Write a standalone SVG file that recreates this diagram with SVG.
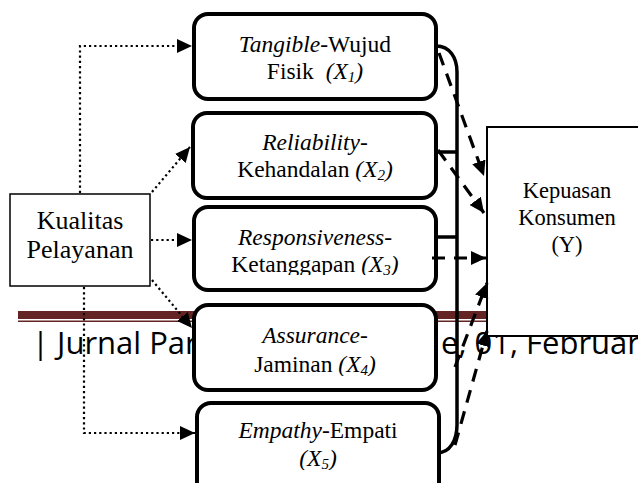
<svg xmlns="http://www.w3.org/2000/svg" width="638" height="483" viewBox="0 0 638 483">
<style>
.rbox{fill:#fff;stroke:#000;stroke-width:4}
.t{font-family:"Liberation Serif","Times New Roman",serif;font-size:23.5px;fill:#000;text-anchor:middle}
.i{font-style:italic}
.dot{fill:none;stroke:#000;stroke-width:2.2;stroke-dasharray:2.2 3}
.dash{fill:none;stroke:#000;stroke-width:3.2;stroke-dasharray:13 9}
.solid{fill:none;stroke:#000;stroke-width:3.5}
.foot{font-family:"Open Sans","DejaVu Sans",sans-serif;font-size:31px;fill:#000}
</style>
<defs>
<marker id="ah" markerUnits="userSpaceOnUse" markerWidth="16" markerHeight="14" refX="15" refY="7" orient="auto"><path d="M0,0 L15,7 L0,14 z" fill="#000"/></marker>
<marker id="ad" markerUnits="userSpaceOnUse" markerWidth="16" markerHeight="14" refX="15" refY="7" orient="auto"><path d="M0,0 L15,7 L0,14 z" fill="#000"/></marker>
<clipPath id="c3"><rect x="190" y="200" width="250" height="75"/></clipPath>
<clipPath id="c4"><rect x="190" y="300" width="250" height="76"/></clipPath>
<clipPath id="c5"><rect x="190" y="398" width="255" height="72"/></clipPath>
</defs>
<rect width="638" height="483" fill="#fff"/>
<g id="footer">
<rect x="18" y="311" width="640" height="8" fill="#632423"/>
<rect x="18" y="320.5" width="640" height="1.5" fill="#632423"/>
<text class="foot" x="32" y="354">| Jurnal Para</text>
<text class="foot" x="441" y="354">e, 01, Februari</text>
</g>
<g id="kualitas">
<rect x="10" y="194" width="140" height="92" fill="#fff" stroke="#000" stroke-width="1.5"/>
<text class="t" style="font-size:26px" x="80" y="229">Kualitas</text>
<text class="t" style="font-size:26px" x="80" y="258">Pelayanan</text>
</g>
<g id="x1">
<rect class="rbox" x="194" y="14" width="242" height="85" rx="14"/>
<text class="t" x="315" y="52"><tspan class="i">Tangible</tspan>-Wujud</text>
<text class="t" x="315" y="79" xml:space="preserve">Fisik  <tspan class="i">(X<tspan font-size="15" dy="3">1</tspan><tspan dy="-3">)</tspan></tspan></text>
</g>
<g id="x2">
<rect class="rbox" x="193" y="113" width="243" height="85" rx="14"/>
<text class="t" x="315" y="150"><tspan class="i">Reliability</tspan>-</text>
<text class="t" x="315" y="177">Kehandalan <tspan class="i">(X<tspan font-size="15" dy="3">2</tspan><tspan dy="-3">)</tspan></tspan></text>
</g>
<g id="x3">
<rect class="rbox" x="194" y="207" width="242" height="83" rx="14"/>
<g clip-path="url(#c3)">
<text class="t" x="315" y="245"><tspan class="i">Responsiveness</tspan>-</text>
<text class="t" x="315" y="272">Ketanggapan <tspan class="i">(X<tspan font-size="15" dy="3">3</tspan><tspan dy="-3">)</tspan></tspan></text>
</g>
</g>
<g id="x4">
<rect class="rbox" x="194" y="305" width="242" height="85" rx="14"/>
<g clip-path="url(#c4)">
<text class="t" x="315" y="343"><tspan class="i">Assurance</tspan>-</text>
<text class="t" x="315" y="372">Jaminan <tspan class="i">(X<tspan font-size="15" dy="3">4</tspan><tspan dy="-3">)</tspan></tspan></text>
</g>
</g>
<g id="x5">
<rect class="rbox" x="197" y="403" width="242" height="95" rx="14"/>
<g clip-path="url(#c5)">
<text class="t" x="318" y="438"><tspan class="i">Empathy</tspan>-Empati</text>
<text class="t" x="318" y="466"><tspan class="i">(X<tspan font-size="15" dy="3">5</tspan><tspan dy="-3">)</tspan></tspan></text>
</g>
</g>
<g id="y">
<rect x="487" y="127" width="175" height="209" fill="#fff" stroke="#000" stroke-width="2"/>
<text class="t" style="font-size:22.5px" x="567" y="198">Kepuasan</text>
<text class="t" style="font-size:22.5px" x="567" y="225">Konsumen</text>
<text class="t" style="font-size:22.5px" x="567" y="252">(Y)</text>
</g>
<g id="connectors">
<path class="dot" d="M80,193 V46 H192" marker-end="url(#ah)"/>
<path class="dot" d="M152,192 L190,147" marker-end="url(#ah)"/>
<path class="dot" d="M151,240 H192" marker-end="url(#ah)"/>
<path class="dot" d="M152,280 L192,328" marker-end="url(#ah)"/>
<path class="dot" d="M84,287 V433 H195" marker-end="url(#ah)"/>
<path class="solid" d="M436,46 C450,46 457,58 457,72 V425 C457,440 450,453 437,453"/>
<path class="solid" d="M436,152 H457"/>
<path class="solid" d="M436,237 H457"/>
<path class="dash" d="M439,53 L484,176" marker-end="url(#ad)"/>
<path class="dash" d="M438,150 L484,213" marker-end="url(#ad)"/>
<path class="dash" d="M432,258 H486" marker-end="url(#ad)"/>
<path class="dash" d="M455,367 L487,283" marker-end="url(#ad)"/>
<path class="dash" d="M455,445 L487,331" marker-end="url(#ad)"/>
</g>
</svg>
